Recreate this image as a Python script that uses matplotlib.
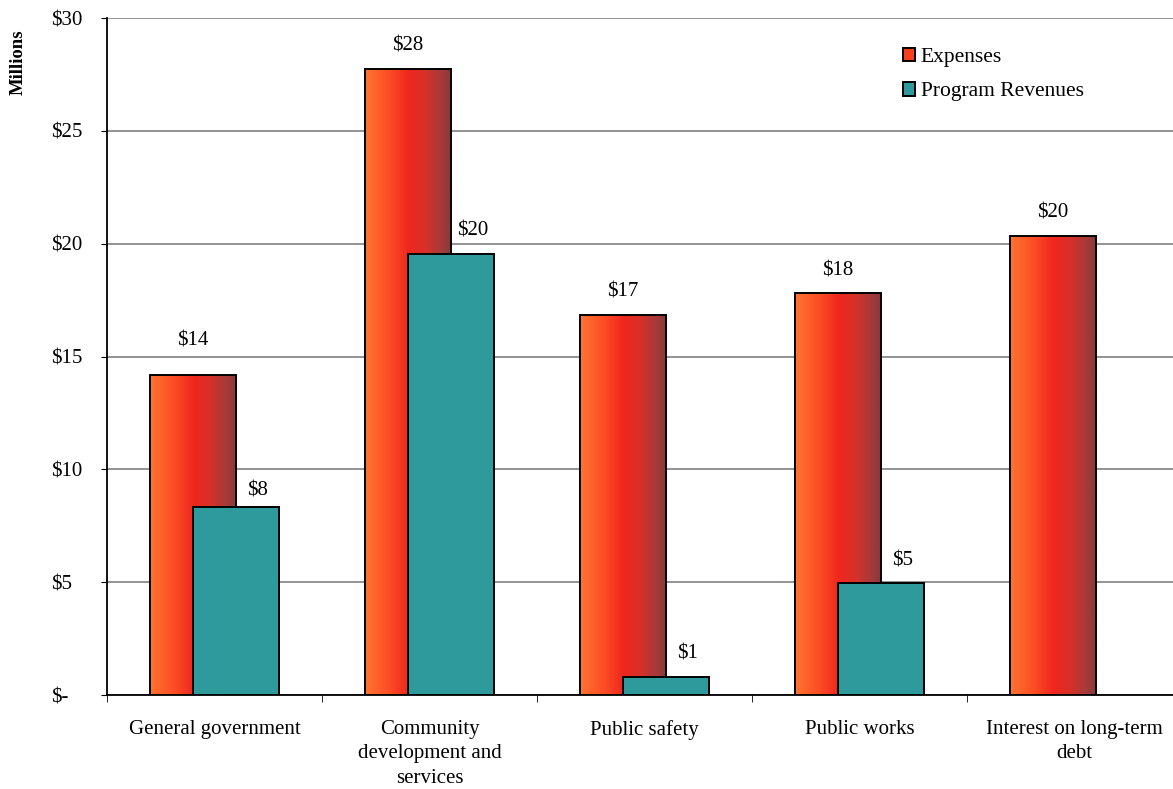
import numpy as np
import matplotlib.pyplot as plt
from matplotlib.colors import LinearSegmentedColormap
from matplotlib.patches import Patch

categories = ["General government", "Community\ndevelopment and\nservices",
              "Public safety", "Public works", "Interest on long-term\ndebt"]
expenses = [14.2, 27.75, 16.85, 17.8, 20.35]
revenues = [8.35, 19.55, 0.8, 4.95, 0.0]
exp_labels = ["$14", "$28", "$17", "$18", "$20"]
rev_labels = ["$8", "$20", "$1", "$5", None]
yticks = [0, 5, 10, 15, 20, 25, 30]
ytick_labels = ["$-", "$5", "$10", "$15", "$20", "$25", "$30"]

# label gap above bar tops (data units), a couple were nudged in the original
exp_gap = [1.5, 1.0, 1.0, 1.0, 1.0]
rev_gap = [0.68, 1.0, 1.0, 1.0, 1.0]

plt.rcParams['font.family'] = ['Liberation Serif', 'DejaVu Serif']

fig = plt.figure(figsize=(11.73, 7.89), dpi=100)
ax = fig.add_axes([107 / 1173, 1 - 695 / 789, 1075 / 1173, 677 / 789])

grad = LinearSegmentedColormap.from_list(
    "exp", [(0, "#ff7430"), (0.3, "#fb4a24"), (0.5, "#f0271e"),
            (0.7, "#d93028"), (0.88, "#a83a38"), (1, "#8a3a3c")])
teal = "#2f9a9c"
x = np.arange(len(categories))
w = 0.4
fs = 15

for i in range(len(categories)):
    left = x[i] - 0.1 - w / 2
    bar = ax.bar(x[i] - 0.1, expenses[i], w, facecolor="none",
                 edgecolor="black", linewidth=1.4, zorder=4)[0]
    img = ax.imshow(np.linspace(0, 1, 100).reshape(1, -1), cmap=grad,
                    extent=[left, left + w, 0, expenses[i]], aspect="auto",
                    zorder=3, interpolation="bilinear")
    img.set_clip_path(bar)
    ax.text(x[i] - 0.1, expenses[i] + exp_gap[i], exp_labels[i], ha="center",
            va="center", fontsize=fs)
    if revenues[i] > 0:
        ax.bar(x[i] + 0.1, revenues[i], w, color=teal, edgecolor="black",
               linewidth=1.4, zorder=5)
        ax.text(x[i] + 0.2, revenues[i] + rev_gap[i], rev_labels[i],
                ha="center", va="center", fontsize=fs)

ax.set_xlim(-0.5, len(categories) - 0.5)
ax.set_ylim(0, 30)
ax.set_yticks(yticks)
ax.set_yticklabels(ytick_labels, fontsize=fs)
ax.tick_params(axis="y", direction="out", length=4, pad=36)
for lbl in ax.get_yticklabels():
    lbl.set_horizontalalignment("left")
ax.set_xticks(x)
ax.set_xticklabels(categories, fontsize=fs, linespacing=1.38)
ax.tick_params(axis="x", length=0, pad=18)
ax.set_xticks(np.arange(len(categories) + 1) - 0.5, minor=True)
ax.tick_params(axis="x", which="minor", direction="out", length=5)

ax.yaxis.grid(True, color="#808080", linewidth=1.2)
ax.set_axisbelow(True)
for s in ["top", "right"]:
    ax.spines[s].set_visible(False)
ax.spines["left"].set_linewidth(1.3)
ax.spines["bottom"].set_linewidth(1.3)

fig.text(18 / 1173, 1 - 62 / 789, "Millions", rotation=90, fontsize=13.5,
         fontweight="bold", ha="center", va="center")

handles = [Patch(facecolor="#f5401e", edgecolor="black", linewidth=1.4, label="Expenses"),
           Patch(facecolor=teal, edgecolor="black", linewidth=1.4, label="Program Revenues")]
ax.legend(handles=handles, loc="upper left", bbox_to_anchor=(0.722, 0.985),
          frameon=False, fontsize=15.5, handlelength=0.6, handleheight=0.6,
          handletextpad=0.25, labelspacing=0.7)

fig.savefig("out.png", dpi=100)
